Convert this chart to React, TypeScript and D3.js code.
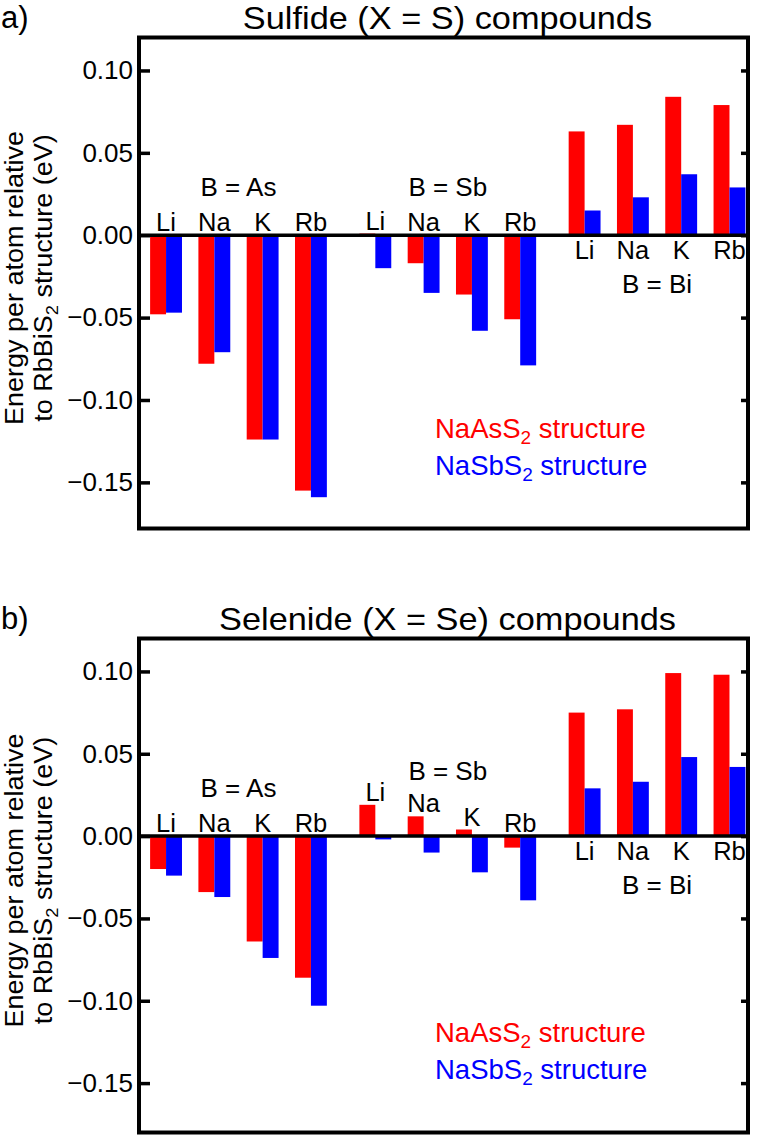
import React, { useRef, useEffect } from "react";
import * as d3 from "d3";

const metals = ["Li", "Na", "K", "Rb"];
const groups = ["As", "Sb", "Bi"];
const yTicks = [-0.15, -0.1, -0.05, 0, 0.05, 0.1];

// eV/atom relative to RbBiS2, ordered B = As (Li..Rb), B = Sb (Li..Rb), B = Bi (Li..Rb)
const sulfideNaAsS2 = [-0.048, -0.078, -0.124, -0.155, 0.001, -0.017, -0.036, -0.051, 0.063, 0.067, 0.084, 0.079];
const sulfideNaSbS2 = [-0.047, -0.071, -0.124, -0.159, -0.02, -0.035, -0.058, -0.079, 0.015, 0.023, 0.037, 0.029];
const selenideNaAsS2 = [-0.02, -0.034, -0.064, -0.086, 0.019, 0.012, 0.004, -0.007, 0.075, 0.077, 0.099, 0.098];
const selenideNaSbS2 = [-0.024, -0.037, -0.074, -0.103, -0.002, -0.01, -0.022, -0.039, 0.029, 0.033, 0.048, 0.042];

const RED = "#ff0000";
const BLUE = "#0000ff";
const FONT = "'Liberation Sans', Arial, Helvetica, sans-serif";

const panels = [
  { tag: "a)", title: "Sulfide (X = S) compounds", red: sulfideNaAsS2, blue: sulfideNaSbS2, top: 37.5, bottom: 528.5, yMin: -0.178, sbDy: 39 },
  { tag: "b)", title: "Selenide (X = Se) compounds", red: selenideNaAsS2, blue: selenideNaSbS2, top: 638.5, bottom: 1132.5, yMin: -0.18, sbDy: 56 },
];

const App = () => {
  const svgRef = useRef<SVGSVGElement>(null);

  useEffect(() => {
    const svg = d3.select(svgRef.current);
    svg.selectAll("*").remove();

    const left = 139;
    const right = 748;
    const gap = 1 / 3; // extra spacing between B groups, in slot units
    const slot = (g: number, m: number) => g * (metals.length + gap) + m;

    const x = d3.scaleLinear().domain([-0.56, 12.05]).range([left, right]);
    const barW = x(0.33) - x(0);

    panels.forEach((p) => {
      const y = d3.scaleLinear().domain([p.yMin, 0.12]).range([p.bottom, p.top]);
      const g = svg.append("g").attr("font-family", FONT);

      // panel tag and title (title glyphs are a little wide, so stretch them)
      g.append("text").attr("x", 1).attr("y", p.top - 10).attr("font-size", 31).text(p.tag);
      g.append("text")
        .attr("transform", `translate(${(left + right) / 2 + 4},${p.top - 9}) scale(1.09,1)`)
        .attr("text-anchor", "middle")
        .attr("font-size", 31.5)
        .text(p.title);

      const rows = groups.flatMap((grp, gi) =>
        metals.map((m, mi) => ({
          grp,
          gi,
          metal: m,
          idx: gi * metals.length + mi,
          pos: slot(gi, mi),
        }))
      );

      // bars
      g.selectAll(".red")
        .data(rows)
        .join("rect")
        .attr("x", (d) => x(d.pos) - barW)
        .attr("y", (d) => y(Math.max(0, p.red[d.idx])))
        .attr("width", barW)
        .attr("height", (d) => Math.abs(y(p.red[d.idx]) - y(0)))
        .attr("fill", RED);
      g.selectAll(".blue")
        .data(rows)
        .join("rect")
        .attr("x", (d) => x(d.pos))
        .attr("y", (d) => y(Math.max(0, p.blue[d.idx])))
        .attr("width", barW)
        .attr("height", (d) => Math.abs(y(p.blue[d.idx]) - y(0)))
        .attr("fill", BLUE);

      // metal labels: above the bars for As/Sb, below the zero line for Bi
      g.selectAll(".metal")
        .data(rows)
        .join("text")
        .attr("x", (d) => x(d.pos))
        .attr("y", (d) =>
          d.grp === "Bi" ? y(0) + 24 : y(Math.max(0, p.red[d.idx], p.blue[d.idx])) - 4
        )
        .attr("text-anchor", "middle")
        .attr("font-size", 25.5)
        .text((d) => d.metal);

      // group labels
      groups.forEach((grp, gi) => {
        const dy = grp === "Bi" ? 58 : grp === "Sb" ? -p.sbDy : -39;
        g.append("text")
          .attr("x", x(slot(gi, 1.5)))
          .attr("y", y(0) + dy)
          .attr("text-anchor", "middle")
          .attr("font-size", 26)
          .text(`B = ${grp}`);
      });

      // zero line
      g.append("line")
        .attr("x1", left)
        .attr("x2", right)
        .attr("y1", y(0))
        .attr("y2", y(0))
        .attr("stroke", "#000")
        .attr("stroke-width", 3.5);

      // axes
      const axL = g
        .append("g")
        .attr("transform", `translate(${left},0)`)
        .call(d3.axisLeft(y).tickValues(yTicks).tickSize(-11).tickPadding(6).tickFormat(d3.format(".2f")));
      axL.select(".domain").remove();
      axL.selectAll("line").attr("stroke-width", 3.5);
      axL.selectAll("text").attr("font-size", 26).attr("font-family", FONT).attr("fill", "#000");

      const axR = g
        .append("g")
        .attr("transform", `translate(${right},0)`)
        .call(d3.axisRight(y).tickValues(yTicks).tickSize(-7).tickFormat(() => ""));
      axR.select(".domain").remove();
      axR.selectAll("line").attr("stroke-width", 3.5);

      // frame
      g.append("rect")
        .attr("x", left)
        .attr("y", p.top)
        .attr("width", right - left)
        .attr("height", p.bottom - p.top)
        .attr("fill", "none")
        .attr("stroke", "#000")
        .attr("stroke-width", 4);

      // y axis title
      const yc = (p.top + p.bottom) / 2 - 5;
      g.append("text")
        .attr("transform", `translate(22.5,${yc}) rotate(-90) scale(1.08,1)`)
        .attr("text-anchor", "middle")
        .attr("font-size", 25)
        .text("Energy per atom relative");
      const l2 = g
        .append("text")
        .attr("transform", `translate(52,${yc}) rotate(-90) scale(1.08,1)`)
        .attr("text-anchor", "middle")
        .attr("font-size", 25);
      l2.append("tspan").text("to RbBiS");
      l2.append("tspan").attr("dy", 6).attr("font-size", 17).text("2");
      l2.append("tspan").attr("dy", -6).text(" structure (eV)");

      // legend
      const legend = [
        { name: "NaAsS", color: RED, dy: -91 },
        { name: "NaSbS", color: BLUE, dy: -54 },
      ];
      legend.forEach((l) => {
        const t = g
          .append("text")
          .attr("x", 435)
          .attr("y", p.bottom + l.dy)
          .attr("font-size", 27.5)
          .attr("fill", l.color);
        t.append("tspan").text(l.name);
        t.append("tspan").attr("dy", 6).attr("font-size", 19).text("2");
        t.append("tspan").attr("dy", -6).text(" structure");
      });
    });
  }, []);

  return (
    <svg
      ref={svgRef}
      width={758}
      height={1135}
      style={{ position: "absolute", left: 0, top: 0, background: "#fff" }}
    ></svg>
  );
};

export default App;
